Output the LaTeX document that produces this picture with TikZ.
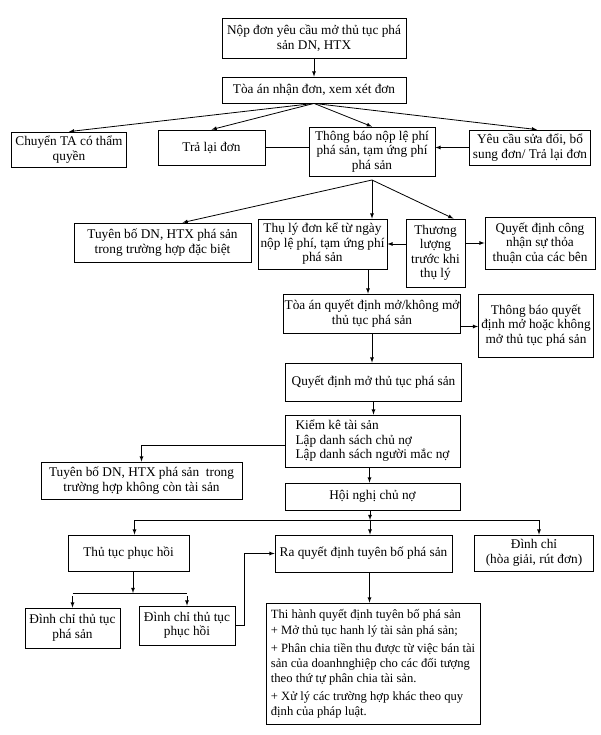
\documentclass[tikz,border=0pt]{standalone}
\usepackage{fontspec}
\setmainfont{Liberation Serif}
\usepackage{tikz}
\usetikzlibrary{arrows}
\tikzset{every picture/.style={x=1pt,y=-1pt,>=latex,every node/.style={draw,line width=0.8pt,inner sep=1pt,align=center,font=\fontsize{13.3}{14.5}\selectfont}}}

\begin{document}
\begin{tikzpicture}[line width=0.8pt]
      \useasboundingbox (0,0) rectangle (600,735);

      \node[minimum width=184, minimum height=40] (np) at (314, 38){Nộp đơn yêu cầu mở thủ tục phá\\ sản DN, HTX};
      \node[minimum width=184, minimum height=26] (tiep) at (314, 90){Tòa án nhận đơn, xem xét đơn};
      \node[minimum width=115, minimum height=35] (chuyen) at (69, 149.5){Chuyển TA có thẩm\\ quyền};
      \node[minimum width=107, minimum height=35] (tralai) at (211.5, 147.5){Trả lại đơn};
      \node[minimum width=126, minimum height=49] (thongbao) at (372, 151.5){Thông báo nộp lệ phí\\ phá sản, tạm ứng phí\\ phá sản};
      \node[minimum width=121, minimum height=35] (yeucau) at (530, 147.5){Yêu cầu sửa đổi, bổ\\ sung đơn/ Trả lại đơn};
      \node[minimum width=177, minimum height=39] (tuyenbo1) at (162.5, 242.5){Tuyên bố DN, HTX phá sản\\ trong trường hợp đặc biệt};
      \node[minimum width=129, minimum height=50] (thuly) at (322.5, 244){Thụ lý đơn kể từ ngày\\ nộp lệ phí, tạm ứng phí\\ phá sản};
      \node[minimum width=59, minimum height=68] (thuongluong) at (435.5, 253){Thương\\ lượng\\ trước khi\\ thụ lý};
      \node[minimum width=110, minimum height=52] (congnhan) at (540, 243){Quyết định công\\ nhận sự thỏa\\ thuận của các bên};
      \node[minimum width=176, minimum height=39] (moquyet) at (372, 313.5){Tòa án quyết định mở/không mở\\ thủ tục phá sản};
      \node[minimum width=115, minimum height=63] (thongbao2) at (536, 325.5){Thông báo quyết\\ định mở hoặc không\\ mở thủ tục phá sản};
      \node[minimum width=176, minimum height=38] (quyetdinh) at (373.5, 382){Quyết định mở thủ tục phá sản};
      \node[minimum width=175, minimum height=52, align=left] (kiemke) at (372.5, 441){Kiểm kê tài sản\\ Lập danh sách chủ nợ\\ Lập danh sách người mắc nợ};
      \node[minimum width=201, minimum height=37] (tuyenbo2) at (141.5, 480.5){Tuyên bố DN, HTX phá sản~ trong\\ trường hợp không còn tài sản};
      \node[minimum width=175, minimum height=27] (hoinghi) at (372.5, 496.5){Hội nghị chủ nợ};
      \node[minimum width=121, minimum height=36] (phuchoi) at (128.5, 553){Thủ tục phục hồi};
      \node[minimum width=177, minimum height=37] (tuyenbo3) at (363.5, 553.5){Ra quyết định tuyên bố phá sản};
      \node[minimum width=119, minimum height=36] (dinhchi) at (534, 553){Đình chỉ\\ (hòa giải, rút đơn)};
      \node[minimum width=95, minimum height=40] (dinhchi1) at (72.5, 628){Đình chỉ thủ tục\\ phá sản};
      \node[minimum width=96, minimum height=39] (dinhchi2) at (187, 625.5){Đình chỉ thủ tục\\ phục hồi};
      \node[minimum width=214, minimum height=121, align=left, font=\fontsize{12.6}{15}\selectfont] (thihanh) at (373, 663.5){Thi hành quyết định tuyên bố phá sản\\[1pt] + Mở thủ tục hanh lý tài sản phá sản;\\[3pt] + Phân chia tiền thu được từ việc bán tài\\ sản của doanhnghiệp cho các đối tượng\\ theo thứ tự phân chia tài sản.\\[3pt] + Xử lý các trường hợp khác theo quy\\ định của pháp luật.};

      \coordinate (t1) at (372, 180);
      \coordinate (j1) at (370, 520);
      \coordinate (j2) at (133, 593);

      \draw[->](np)--(tiep);
      \draw[->](tiep.south)--(chuyen.north);
      \draw[->](tiep.south)--(tralai.north);
      \draw[->](tiep.south)--(thongbao.north);
      \draw[->](tiep.south)--([xshift=7pt]yeucau.north);
      \draw[-](tralai.east)--(tralai.east -| thongbao.west);
      \draw[->](yeucau.west)--(yeucau.west -| thongbao.east);
      \draw[->](t1)--([xshift=20pt]tuyenbo1.north);
      \draw[->](t1)--(t1 |- thuly.north);
      \draw[->](t1)--([xshift=18pt]thuongluong.north);
      \draw[->](thuongluong.west |- thuly.east)--(thuly.east);
      \draw[->](thuongluong.east |- congnhan.west)--(congnhan.west);
      \draw[->]([xshift=-4pt]moquyet.north |- thuly.south)--([xshift=-4pt]moquyet.north);
      \draw[->]([yshift=-13pt]moquyet.east)--([yshift=-13pt]moquyet.east -| thongbao2.west);
      \draw[->](moquyet)--(moquyet |- quyetdinh.north);
      \draw[->](quyetdinh)--(quyetdinh |- kiemke.north);
      \draw[->]([yshift=-4pt]kiemke.west)-|(tuyenbo2.north);
      \draw[->]([xshift=-3pt]kiemke.south)--([xshift=-3pt]kiemke.south |- hoinghi.north);
      \draw[->](hoinghi.south -| j1)--(j1);
      \draw[->](j1)--(j1 |- tuyenbo3.north);
      \draw[->](j1)-|([xshift=6pt]phuchoi.north);
      \draw[->](j1)-|([xshift=5pt]dinhchi.north);
      \draw[->](phuchoi.south -| j2)--(j2);
      \draw[->]([yshift=-3pt]j2 -| dinhchi1.north)--(dinhchi1.north);
      \draw[->]([yshift=-3pt]j2 -| dinhchi2.north)--(dinhchi2.north);
      \draw[-](dinhchi1.north |- j2)--(dinhchi2.north |- j2);
      \draw[->](dinhchi2.east)--++(9,0)|-(tuyenbo3.west);
      \draw[->]([xshift=6pt]tuyenbo3.south)--([xshift=6pt]tuyenbo3.south |- thihanh.north);
    \end{tikzpicture}
\end{document}
